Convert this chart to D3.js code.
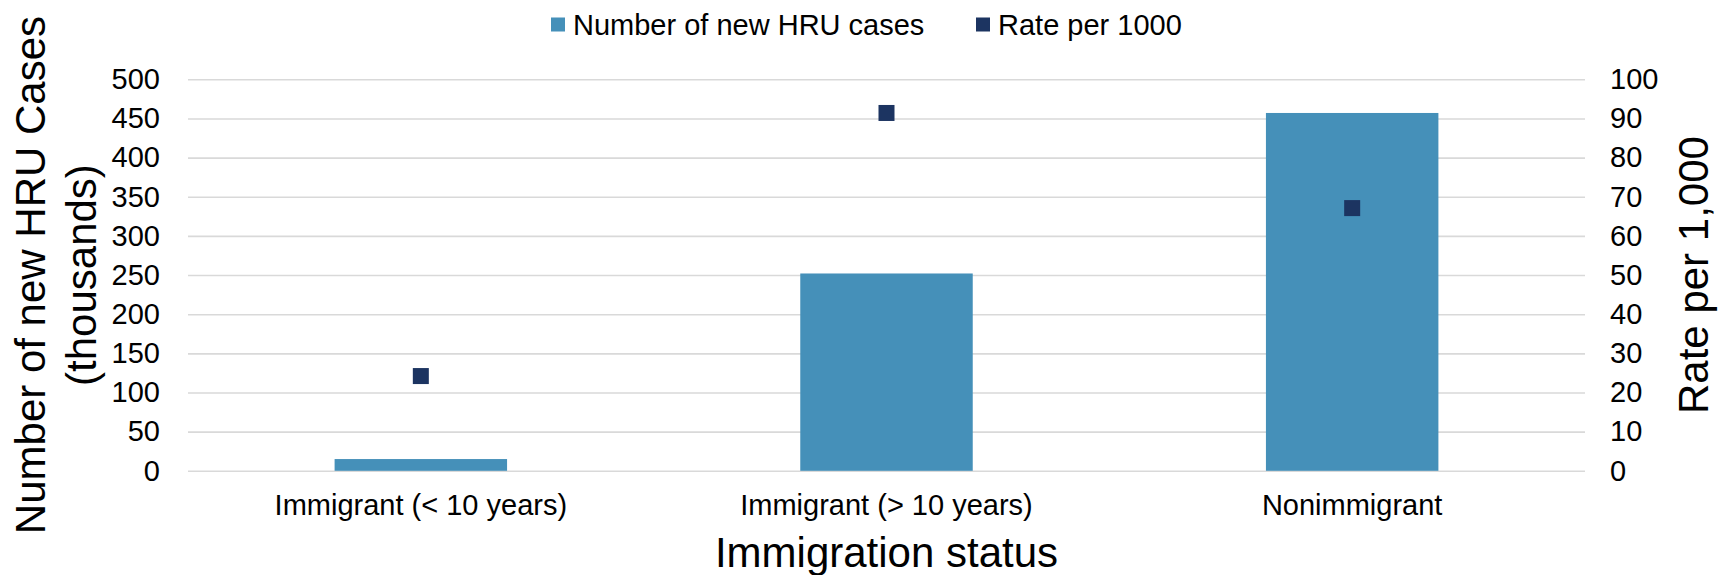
<!DOCTYPE html>
<html>
<head>
<meta charset="utf-8">
<script src="https://cdn.jsdelivr.net/npm/d3@7"></script>
<style>
  html, body { margin: 0; padding: 0; background: #fff; }
  svg { display: block; font-family: "Liberation Sans", Arial, sans-serif; }
</style>
</head>
<body>
<svg id="chart" width="1719" height="575"></svg>
<script>
// ---- data ----
const categories = ["Immigrant (< 10 years)", "Immigrant (> 10 years)", "Nonimmigrant"];
const newCases = [15, 252, 457];          // thousands
const ratePer1000 = [24.2, 91.4, 67.1];   // rate per 1,000
const leftTicks = [0, 50, 100, 150, 200, 250, 300, 350, 400, 450, 500];
const rightTicks = [0, 10, 20, 30, 40, 50, 60, 70, 80, 90, 100];
const seriesNames = ["Number of new HRU cases", "Rate per 1000"];
const leftTitle = ["Number of new HRU Cases", "(thousands)"];
const rightTitle = "Rate per 1,000";
const xTitle = "Immigration status";

// ---- layout ----
const W = 1719, H = 575;
const plot = { left: 188, right: 1585, top: 79.3, bottom: 470.8 };
const barColor = "#4590b9";
const markColor = "#1c3461";
const gridColor = "#d9d9d9";

const svg = d3.select("#chart");

const x = d3.scaleBand()
  .domain(categories)
  .range([plot.left, plot.right])
  .paddingInner(1.7 / 2.7)
  .paddingOuter(0.85 / 2.7);

const yL = d3.scaleLinear().domain([0, 500]).range([plot.bottom, plot.top]);
const yR = d3.scaleLinear().domain([0, 100]).range([plot.bottom, plot.top]);

// gridlines
const grid = svg.append("g")
  .attr("transform", `translate(${plot.left},0)`)
  .call(d3.axisLeft(yL).tickValues(leftTicks).tickSize(-(plot.right - plot.left)).tickFormat(""));
grid.select(".domain").remove();
grid.selectAll("line").attr("stroke", gridColor).attr("stroke-width", 1.6);

// left axis labels
const axL = svg.append("g")
  .attr("transform", `translate(160,0)`)
  .call(d3.axisLeft(yL).tickValues(leftTicks).tickSize(0).tickPadding(0).tickFormat(d3.format("d")));
axL.select(".domain").remove();
axL.selectAll("text").attr("font-size", 29).attr("fill", "#000")
  .attr("font-family", '"Liberation Sans", Arial, sans-serif');

// right axis labels
const axR = svg.append("g")
  .attr("transform", `translate(1610,0)`)
  .call(d3.axisRight(yR).tickValues(rightTicks).tickSize(0).tickPadding(0).tickFormat(d3.format("d")));
axR.select(".domain").remove();
axR.selectAll("text").attr("font-size", 29).attr("fill", "#000")
  .attr("font-family", '"Liberation Sans", Arial, sans-serif');

// bars
svg.append("g").selectAll("rect")
  .data(categories)
  .join("rect")
  .attr("x", d => x(d))
  .attr("width", x.bandwidth())
  .attr("y", (d, i) => yL(newCases[i]))
  .attr("height", (d, i) => yL(0) - yL(newCases[i]))
  .attr("fill", barColor);

// markers
const ms = 16;
svg.append("g").selectAll("rect")
  .data(categories)
  .join("rect")
  .attr("x", d => x(d) + x.bandwidth() / 2 - ms / 2)
  .attr("y", (d, i) => yR(ratePer1000[i]) - ms / 2)
  .attr("width", ms)
  .attr("height", ms)
  .attr("fill", markColor);

// x axis category labels
const axX = svg.append("g")
  .attr("transform", `translate(0,${plot.bottom})`)
  .call(d3.axisBottom(x).tickSize(0).tickPadding(0));
axX.select(".domain").remove();
axX.selectAll("text").attr("font-size", 29).attr("fill", "#000")
  .attr("dy", null).attr("y", 44)
  .attr("font-family", '"Liberation Sans", Arial, sans-serif');

// axis titles
const midY = (plot.top + plot.bottom) / 2;
svg.append("text")
  .attr("transform", `translate(45,${midY}) rotate(-90)`)
  .attr("text-anchor", "middle").attr("font-size", 42).attr("fill", "#000")
  .text(leftTitle[0]);
svg.append("text")
  .attr("transform", `translate(96,${midY}) rotate(-90)`)
  .attr("text-anchor", "middle").attr("font-size", 42).attr("fill", "#000")
  .text(leftTitle[1]);
svg.append("text")
  .attr("transform", `translate(1708,${midY}) rotate(-90)`)
  .attr("text-anchor", "middle").attr("font-size", 42).attr("fill", "#000")
  .text(rightTitle);
svg.append("text")
  .attr("x", (plot.left + plot.right) / 2).attr("y", 567)
  .attr("text-anchor", "middle").attr("font-size", 42).attr("fill", "#000")
  .text(xTitle);

// legend
const legendItems = [
  { name: seriesNames[0], color: barColor, x: 551 },
  { name: seriesNames[1], color: markColor, x: 976 }
];
const lg = svg.append("g");
legendItems.forEach(it => {
  lg.append("rect").attr("x", it.x).attr("y", 17.5).attr("width", 14).attr("height", 14).attr("fill", it.color);
  lg.append("text").attr("x", it.x + 22).attr("y", 35).attr("font-size", 29).attr("fill", "#000").text(it.name);
});
</script>
</body>
</html>
